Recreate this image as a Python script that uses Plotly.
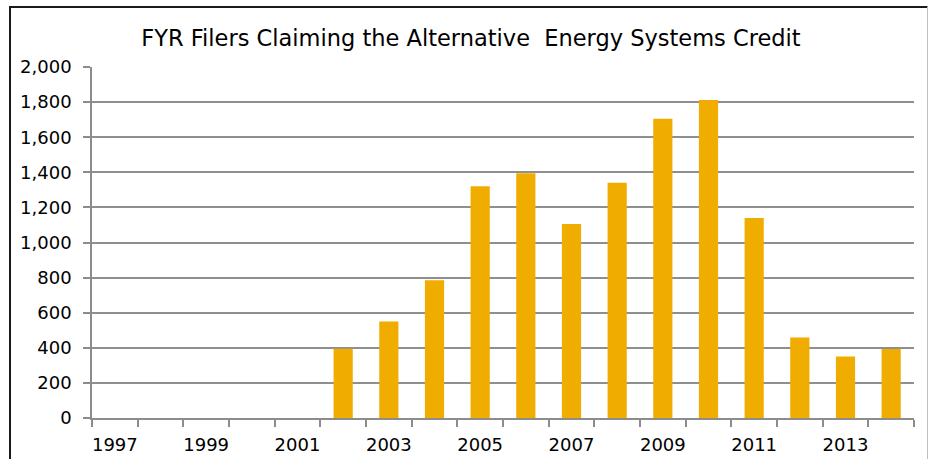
import plotly.graph_objects as go

years = list(range(1997, 2015))
filers = [0, 0, 0, 0, 0, 395, 550, 785, 1320, 1395, 1105, 1340, 1705, 1812, 1140, 458, 350, 393]
y_ticks = list(range(0, 2001, 200))
y_labels = [f"{v:,}" for v in y_ticks]
x_tick_years = list(range(1997, 2014, 2))
boundaries = [y - 0.5 for y in range(1997, 2016)]

W, H = 928, 459
L, R, T, B = 92, 14, 67, 41
pw, ph = W - L - R, H - T - B

def px(x):
    return (x - L) / pw

def py(y):
    return (H - B - y) / ph

fig = go.Figure()
fig.add_trace(go.Bar(
    x=years, y=filers,
    marker=dict(color="#F0AD00", line=dict(width=0)),
    width=0.42,
))

fig.update_layout(
    width=W, height=H,
    margin=dict(l=L, r=R, t=T, b=B, autoexpand=False),
    paper_bgcolor="white", plot_bgcolor="white",
    font=dict(family="DejaVu Sans, Liberation Sans, Arial, sans-serif", size=18, color="#000"),
    showlegend=False,
    title=dict(
        text="FYR Filers Claiming the Alternative  Energy Systems Credit",
        font=dict(size=22.5, color="#000"),
        x=471 / W, xanchor="center", xref="container",
        y=1 - 38 / H, yanchor="middle", yref="container",
    ),
    xaxis=dict(
        range=[1996.5, 2014.5],
        tickmode="array", tickvals=x_tick_years, ticktext=[str(v) for v in x_tick_years],
        ticks="", showgrid=False,
        showline=True, linecolor="#8c8c8c", linewidth=1.5,
        minor=dict(tickmode="array", tickvals=boundaries, ticks="outside",
                   ticklen=7, tickcolor="#8c8c8c", tickwidth=1.5, showgrid=False),
        ticklabelstandoff=10,
        tickfont=dict(size=18),
        zeroline=False,
        automargin=False,
    ),
    yaxis=dict(
        range=[0, 2000],
        tickmode="array", tickvals=y_ticks, ticktext=y_labels,
        ticks="outside", ticklen=7, tickcolor="#8c8c8c", tickwidth=1.5,
        showgrid=True, gridcolor="#8f8f8f", gridwidth=1.5,
        showline=True, linecolor="#8c8c8c", linewidth=1.5,
        zeroline=False,
        tickfont=dict(size=18),
        ticklabelstandoff=8,
        automargin=False,
    ),
    shapes=[
        dict(type="line", xref="paper", yref="paper", x0=px(10), x1=px(10), y0=py(6), y1=py(470),
             line=dict(color="#1a1a1a", width=2)),
        dict(type="line", xref="paper", yref="paper", x0=px(9), x1=px(927.5), y0=py(7), y1=py(7),
             line=dict(color="#1a1a1a", width=2)),
        dict(type="line", xref="paper", yref="paper", x0=px(927.5), x1=px(927.5), y0=py(7), y1=py(470),
             line=dict(color="#bfbfbf", width=1)),
    ],
)

fig.write_html("out.html", config={"displayModeBar": False},
               post_script="document.body.style.margin='0';document.body.style.padding='0';")
